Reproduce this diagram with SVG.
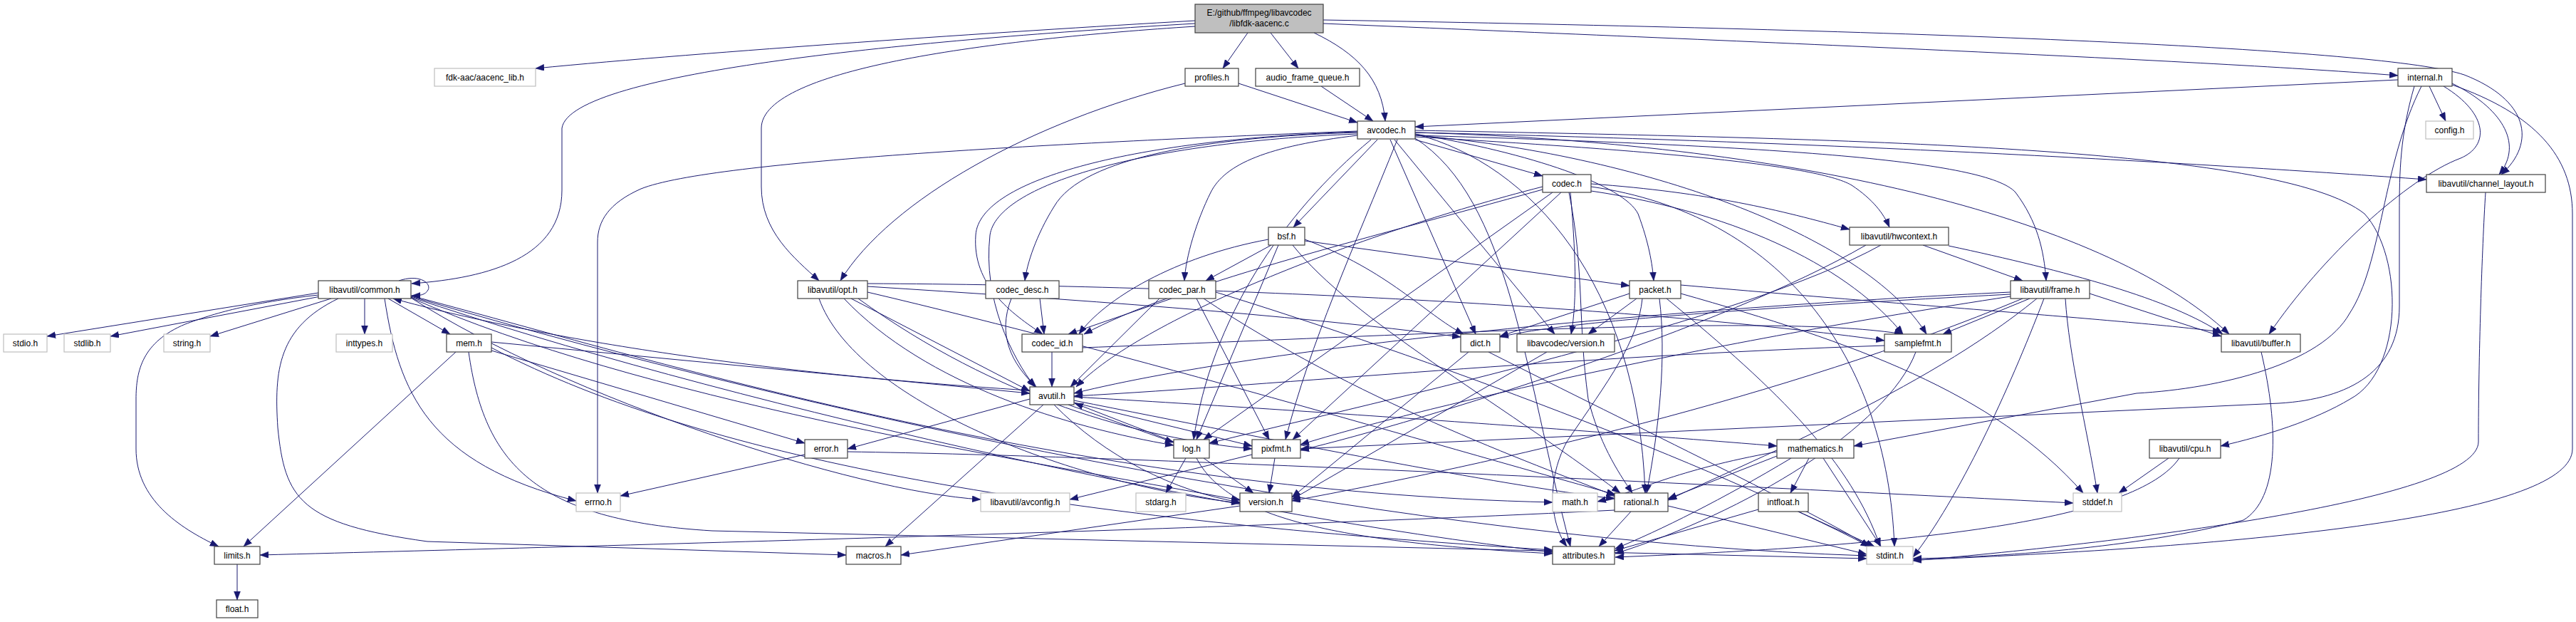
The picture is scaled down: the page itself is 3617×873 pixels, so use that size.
<svg xmlns="http://www.w3.org/2000/svg" width="3617" height="873" viewBox="0 0 3617 873">
<style>
.n rect{fill:#fff;stroke:#404040;stroke-width:1.2}
.u rect{fill:#fff;stroke:#bfbfbf;stroke-width:1.2}
.r rect{fill:#bfbfbf;stroke:#404040;stroke-width:1.2}
text{font-family:"Liberation Sans",Arial,sans-serif;font-size:12px;text-anchor:middle;fill:#000}
#edges path{fill:none;stroke:#191970;stroke-width:1;marker-end:url(#a)}
</style>
<defs>
<marker id="a" markerUnits="userSpaceOnUse" markerWidth="13" markerHeight="10" refX="12" refY="4.5" orient="auto">
<path d="M0,0 L12,4.5 L0,9 z" fill="#191970" stroke="#191970" stroke-width="0.5"/>
</marker>
</defs>
<rect width="3617" height="873" fill="#fff"/>
<g id="edges">
<path d="M1678,29 C1400,45 1000,72 752,96"/>
<path d="M1678,33 C1300,55 800,100 789,180 L789,267 C789,360 690,390 578,398"/>
<path d="M1678,37 C1400,55 1069,95 1069,180 L1069,262 C1069,325 1115,362 1150,394"/>
<path d="M1752,46 L1717,96"/>
<path d="M1784,46 L1823,96"/>
<path d="M1845,46 C1905,75 1940,110 1945,170"/>
<path d="M1858,33 C2500,60 3100,85 3367,106"/>
<path d="M1858,28 C2700,42 3350,68 3460,105 C3550,140 3562,200 3512,245"/>
<path d="M1739,117 L1906,172"/>
<path d="M1664,117 C1450,170 1250,280 1180,394"/>
<path d="M1855,121 L1928,170"/>
<path d="M3367,112 L1987,178"/>
<path d="M3411,121 L3434,170"/>
<path d="M3443,117 C3510,150 3545,200 3509,245"/>
<path d="M3431,121 C3495,160 3495,205 3455,222 C3380,250 3260,360 3186,469"/>
<path d="M3400,121 C3345,230 3345,370 3299,440 C3260,510 3120,545 3000,552 L2603,626"/>
<path d="M3390,121 C3370,190 3369,240 3369,300 L3369,430 C3369,520 3300,560 3200,566 L1826,630"/>
<path d="M3443,119 C3560,160 3612,220 3612,300 L3612,630 C3612,720 3200,765 2686,786"/>
<path d="M1906,184 C1500,200 1000,225 900,265 C855,285 839,310 839,340 L839,692"/>
<path d="M1987,190 C2300,215 2620,330 2705,469"/>
<path d="M1987,194 C2120,280 2140,520 2205,767"/>
<path d="M1906,188 C1600,200 1400,260 1390,330 C1380,420 1420,500 1453,543"/>
<path d="M1987,186 C2500,200 2950,300 3130,469"/>
<path d="M1987,183 C2600,195 3200,205 3320,300 C3375,360 3375,520 3300,560 C3250,590 3180,612 3118,626"/>
<path d="M1987,186 C2600,200 3100,230 3407,252"/>
<path d="M1952,196 L2072,469"/>
<path d="M1987,190 C2500,205 2790,225 2830,270 C2860,310 2870,350 2873,394"/>
<path d="M1987,192 C2300,210 2550,230 2600,260 C2630,280 2645,300 2653,319"/>
<path d="M1925,196 C1800,300 1700,450 1676,617"/>
<path d="M1962,196 C1900,350 1840,480 1805,617"/>
<path d="M1987,188 C2150,230 2300,400 2310,692"/>
<path d="M1934,196 L1816,319"/>
<path d="M1987,196 L2166,247"/>
<path d="M1906,186 C1700,192 1520,220 1480,290 C1455,330 1442,370 1439,394"/>
<path d="M1906,190 C1780,205 1720,230 1700,270 C1680,310 1665,360 1663,394"/>
<path d="M1906,185 C1600,195 1375,250 1370,330 C1365,400 1420,440 1464,469"/>
<path d="M1987,188 C2150,215 2280,260 2300,300 C2315,340 2320,370 2322,394"/>
<path d="M1958,196 L2183,469"/>
<path d="M2234,262 C2500,300 2650,500 2660,767"/>
<path d="M2166,262 C1900,330 1600,450 1511,543"/>
<path d="M2234,258 C2400,270 2500,295 2597,322"/>
<path d="M2180,270 L1690,617"/>
<path d="M2192,270 L1815,617"/>
<path d="M2203,270 C2225,380 2215,450 2230,560 C2245,620 2270,660 2292,692"/>
<path d="M2234,268 C2450,300 2600,380 2672,469"/>
<path d="M2166,266 C1900,340 1650,400 1522,469"/>
<path d="M2205,270 C2212,350 2215,420 2206,469"/>
<path d="M1832,336 C1950,380 2000,440 2055,469"/>
<path d="M1795,344 L1680,617"/>
<path d="M1815,344 C1900,450 2100,560 2275,692"/>
<path d="M1781,336 C1650,360 1550,420 1515,469"/>
<path d="M1785,344 L1693,394"/>
<path d="M1832,338 L2288,401"/>
<path d="M2736,345 C2900,380 3050,420 3121,469"/>
<path d="M2700,344 L2840,394"/>
<path d="M2641,344 C2450,450 1950,560 1698,622"/>
<path d="M2620,344 C2420,460 2000,590 1826,632"/>
<path d="M540,419 C560,550 600,650 809,703"/>
<path d="M512,419 L512,469"/>
<path d="M447,414 C350,425 300,440 260,455 C200,480 191,520 191,560 L191,630 C191,700 250,740 307,767"/>
<path d="M577,415 C900,500 1500,690 2180,705"/>
<path d="M577,416 C1200,600 2000,760 2621,780"/>
<path d="M447,411 L66,472"/>
<path d="M450,416 L155,472"/>
<path d="M465,419 L295,472"/>
<path d="M577,417 C1000,560 1700,720 2180,775"/>
<path d="M475,419 C390,460 385,520 390,600 C400,700 420,735 600,760 L1188,779"/>
<path d="M577,418 C900,560 1400,640 1741,702"/>
<path d="M577,418 C800,560 1200,690 1377,701"/>
<path d="M545,419 L632,469"/>
<path d="M560,394 C590,384 606,398 601,407 C597,414 590,415 578,415"/>
<path d="M1218,410 C1600,500 2000,620 2268,694"/>
<path d="M1195,419 L1446,549"/>
<path d="M1218,402 C1500,420 1800,440 2051,473"/>
<path d="M1185,419 C1300,540 1500,600 1648,625"/>
<path d="M1205,419 C1400,560 1600,615 1758,630"/>
<path d="M1218,398 C1700,400 2300,430 2646,478"/>
<path d="M1150,419 C1200,560 1500,680 1741,706"/>
<path d="M1420,419 C1400,470 1420,510 1455,543"/>
<path d="M1460,419 L1466,469"/>
<path d="M1707,410 C2000,500 2400,650 2625,767"/>
<path d="M1628,419 L1503,543"/>
<path d="M1690,419 C1900,560 2150,650 2268,696"/>
<path d="M1680,419 L1782,617"/>
<path d="M1645,419 L1500,469"/>
<path d="M2360,412 C2600,480 2800,550 2925,692"/>
<path d="M2340,419 C2500,550 2600,650 2640,767"/>
<path d="M2306,419 C2300,480 2259,533 2200,620 C2168,680 2180,740 2200,767"/>
<path d="M2360,400 C2700,430 3000,450 3119,466"/>
<path d="M2288,412 L2106,472"/>
<path d="M2330,419 C2340,500 2330,600 2312,692"/>
<path d="M2298,419 L2230,469"/>
<path d="M2900,419 C2905,500 2930,600 2945,692"/>
<path d="M2870,419 C2820,550 2750,700 2686,782"/>
<path d="M2823,410 C2400,430 1800,480 1508,552"/>
<path d="M2934,412 L3119,472"/>
<path d="M2823,413 C2500,430 2200,450 2106,473"/>
<path d="M2860,419 C2700,550 2450,650 2342,702"/>
<path d="M2850,419 L2728,469"/>
<path d="M2823,416 C2400,480 2000,570 1826,624"/>
<path d="M2840,419 C2500,560 2100,650 1814,703"/>
<path d="M640,494 L342,767"/>
<path d="M658,494 C680,650 750,730 1000,745 L2621,784"/>
<path d="M690,488 C1000,650 1500,730 2180,772"/>
<path d="M690,492 L1130,622"/>
<path d="M690,480 L1446,552"/>
<path d="M1477,494 L1477,543"/>
<path d="M1520,488 C2000,470 2500,440 2672,469"/>
<path d="M2090,494 C2300,600 2550,720 2625,767"/>
<path d="M2062,494 L1814,698"/>
<path d="M2172,494 L1814,701"/>
<path d="M2646,485 C2200,500 1800,540 1508,556"/>
<path d="M2690,494 C2650,600 2450,720 2268,777"/>
<path d="M3175,494 C3200,600 3200,700 3150,730 C3000,770 2800,782 2686,784"/>
<path d="M1446,548 C1000,520 700,460 552,419"/>
<path d="M1446,560 L1190,630"/>
<path d="M1508,562 C1800,620 2100,680 2267,700"/>
<path d="M1480,568 C1550,640 1650,690 1741,705"/>
<path d="M1465,568 L1243,767"/>
<path d="M1508,557 C1900,580 2300,610 2495,626"/>
<path d="M1500,568 L1648,621"/>
<path d="M1508,565 L1758,626"/>
<path d="M1130,638 L871,696"/>
<path d="M1190,634 C1600,640 2400,680 2911,706"/>
<path d="M1665,643 L1637,692"/>
<path d="M1648,620 L1509,566"/>
<path d="M1680,643 C1720,720 1850,760 2180,777"/>
<path d="M1690,643 L1760,692"/>
<path d="M1758,638 L1502,701"/>
<path d="M1790,643 L1782,692"/>
<path d="M2560,643 L2641,767"/>
<path d="M2495,634 C2350,660 2300,690 2243,704"/>
<path d="M2515,643 C2420,700 2330,745 2268,770"/>
<path d="M2495,640 L2342,700"/>
<path d="M2540,643 L2514,692"/>
<path d="M3045,643 L2975,692"/>
<path d="M3060,643 C3000,730 2700,765 2268,782"/>
<path d="M1741,710 L1265,779"/>
<path d="M2342,710 L2621,778"/>
<path d="M2267,716 C1800,740 900,765 365,779"/>
<path d="M2290,718 L2245,767"/>
<path d="M2525,718 L2632,767"/>
<path d="M2469,715 L2267,773"/>
<path d="M333,792 L333,842"/>
<path d="M3490,270 C3485,350 3480,500 3480,620 C3480,700 3000,760 2686,787"/>
</g>
<g id="root" class="r"><rect x="1678" y="6" width="180" height="40"/><text x="1768" y="22">E:/github/ffmpeg/libavcodec</text><text x="1768" y="37">/libfdk-aacenc.c</text></g>
<g id="aacenc_lib" class="u"><rect x="610" y="96" width="142" height="25"/><text x="681" y="112.5">fdk-aac/aacenc_lib.h</text></g>
<g id="profiles" class="n"><rect x="1664" y="96" width="75" height="25"/><text x="1701.5" y="112.5">profiles.h</text></g>
<g id="audio_frame_queue" class="n"><rect x="1763" y="96" width="146" height="25"/><text x="1836" y="112.5">audio_frame_queue.h</text></g>
<g id="internal" class="n"><rect x="3367" y="96" width="76" height="25"/><text x="3405" y="112.5">internal.h</text></g>
<g id="avcodec" class="n"><rect x="1906" y="170" width="81" height="25"/><text x="1946.5" y="186.5">avcodec.h</text></g>
<g id="config" class="u"><rect x="3406" y="170" width="67" height="25"/><text x="3439.5" y="186.5">config.h</text></g>
<g id="codec" class="n"><rect x="2166" y="245" width="68" height="25"/><text x="2200" y="261.5">codec.h</text></g>
<g id="channel_layout" class="n"><rect x="3407" y="245" width="167" height="25"/><text x="3490.5" y="261.5">libavutil/channel_layout.h</text></g>
<g id="bsf" class="n"><rect x="1781" y="319" width="51" height="25"/><text x="1806.5" y="335.5">bsf.h</text></g>
<g id="hwcontext" class="n"><rect x="2597" y="319" width="139" height="25"/><text x="2666.5" y="335.5">libavutil/hwcontext.h</text></g>
<g id="common" class="n"><rect x="447" y="394" width="130" height="25"/><text x="512" y="410.5">libavutil/common.h</text></g>
<g id="opt" class="n"><rect x="1120" y="394" width="98" height="25"/><text x="1169" y="410.5">libavutil/opt.h</text></g>
<g id="codec_desc" class="n"><rect x="1384" y="394" width="103" height="25"/><text x="1435.5" y="410.5">codec_desc.h</text></g>
<g id="codec_par" class="n"><rect x="1613" y="394" width="94" height="25"/><text x="1660" y="410.5">codec_par.h</text></g>
<g id="packet" class="n"><rect x="2288" y="394" width="72" height="25"/><text x="2324" y="410.5">packet.h</text></g>
<g id="frame" class="n"><rect x="2823" y="394" width="111" height="25"/><text x="2878.5" y="410.5">libavutil/frame.h</text></g>
<g id="stdio" class="u"><rect x="5" y="469" width="61" height="25"/><text x="35.5" y="485.5">stdio.h</text></g>
<g id="stdlib" class="u"><rect x="90" y="469" width="65" height="25"/><text x="122.5" y="485.5">stdlib.h</text></g>
<g id="string" class="u"><rect x="230" y="469" width="65" height="25"/><text x="262.5" y="485.5">string.h</text></g>
<g id="inttypes" class="u"><rect x="472" y="469" width="79" height="25"/><text x="511.5" y="485.5">inttypes.h</text></g>
<g id="mem" class="n"><rect x="627" y="469" width="63" height="25"/><text x="658.5" y="485.5">mem.h</text></g>
<g id="codec_id" class="n"><rect x="1435" y="469" width="85" height="25"/><text x="1477.5" y="485.5">codec_id.h</text></g>
<g id="dict" class="n"><rect x="2051" y="469" width="55" height="25"/><text x="2078.5" y="485.5">dict.h</text></g>
<g id="lavc_version" class="n"><rect x="2130" y="469" width="137" height="25"/><text x="2198.5" y="485.5">libavcodec/version.h</text></g>
<g id="samplefmt" class="n"><rect x="2646" y="469" width="94" height="25"/><text x="2693" y="485.5">samplefmt.h</text></g>
<g id="buffer" class="n"><rect x="3119" y="469" width="111" height="25"/><text x="3174.5" y="485.5">libavutil/buffer.h</text></g>
<g id="avutil" class="n"><rect x="1446" y="543" width="62" height="25"/><text x="1477" y="559.5">avutil.h</text></g>
<g id="error" class="n"><rect x="1130" y="617" width="60" height="26"/><text x="1160" y="634">error.h</text></g>
<g id="log" class="n"><rect x="1648" y="617" width="50" height="26"/><text x="1673" y="634">log.h</text></g>
<g id="pixfmt" class="n"><rect x="1758" y="617" width="68" height="26"/><text x="1792" y="634">pixfmt.h</text></g>
<g id="mathematics" class="n"><rect x="2495" y="617" width="108" height="26"/><text x="2549" y="634">mathematics.h</text></g>
<g id="cpu" class="n"><rect x="3018" y="617" width="100" height="26"/><text x="3068" y="634">libavutil/cpu.h</text></g>
<g id="errno" class="u"><rect x="809" y="692" width="62" height="26"/><text x="840" y="709">errno.h</text></g>
<g id="avconfig" class="u"><rect x="1377" y="692" width="125" height="26"/><text x="1439.5" y="709">libavutil/avconfig.h</text></g>
<g id="stdarg" class="u"><rect x="1595" y="692" width="70" height="26"/><text x="1630" y="709">stdarg.h</text></g>
<g id="version" class="n"><rect x="1741" y="692" width="73" height="26"/><text x="1777.5" y="709">version.h</text></g>
<g id="math" class="u"><rect x="2180" y="692" width="63" height="26"/><text x="2211.5" y="709">math.h</text></g>
<g id="rational" class="n"><rect x="2267" y="692" width="75" height="26"/><text x="2304.5" y="709">rational.h</text></g>
<g id="intfloat" class="n"><rect x="2469" y="692" width="70" height="26"/><text x="2504" y="709">intfloat.h</text></g>
<g id="stddef" class="u"><rect x="2911" y="692" width="68" height="26"/><text x="2945" y="709">stddef.h</text></g>
<g id="limits" class="n"><rect x="301" y="767" width="64" height="25"/><text x="333" y="783.5">limits.h</text></g>
<g id="macros" class="n"><rect x="1188" y="767" width="77" height="25"/><text x="1226.5" y="783.5">macros.h</text></g>
<g id="attributes" class="n"><rect x="2180" y="767" width="87" height="25"/><text x="2223.5" y="783.5">attributes.h</text></g>
<g id="stdint" class="u"><rect x="2621" y="767" width="65" height="25"/><text x="2653.5" y="783.5">stdint.h</text></g>
<g id="float" class="n"><rect x="304" y="842" width="58" height="25"/><text x="333" y="858.5">float.h</text></g>
</svg>
